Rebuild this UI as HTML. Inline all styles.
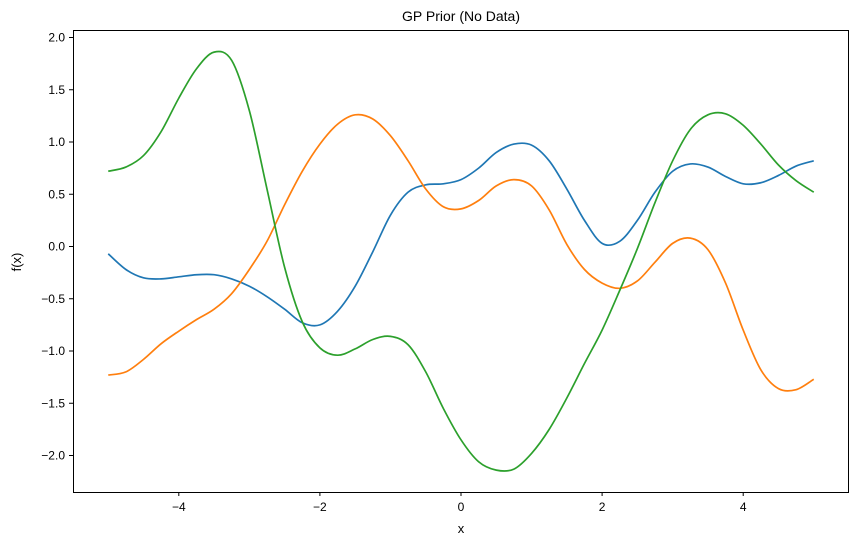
<!DOCTYPE html>
<html><head><meta charset="utf-8"><style>
body{margin:0;background:#fff}
svg{display:block;font-family:"Liberation Sans","DejaVu Sans",sans-serif}
</style></head><body>
<svg id="chart" width="858" height="545" viewBox="0 0 858 545" xmlns="http://www.w3.org/2000/svg">
<rect width="858" height="545" fill="#fff"/>
<text x="461" y="21" text-anchor="middle" font-size="14">GP Prior (No Data)</text>
<g id="plot"></g>
<rect x="73.5" y="30.5" width="775" height="462" fill="none" stroke="#000" stroke-width="1"/>
<text x="461" y="533" text-anchor="middle" font-size="13">x</text>
<text transform="translate(21,262) rotate(-90)" text-anchor="middle" font-size="13">f(x)</text>
</svg>
<script>
const xs = [-5,-4.75,-4.5,-4.25,-4,-3.75,-3.5,-3.25,-3,-2.75,-2.5,-2.25,-2,-1.75,-1.5,-1.25,-1,-0.75,-0.5,-0.25,0,0.25,0.5,0.75,1,1.25,1.5,1.75,2,2.25,2.5,2.75,3,3.25,3.5,3.75,4,4.25,4.5,4.75,5];
const sample1 = [-0.07,-0.22,-0.30,-0.31,-0.29,-0.27,-0.27,-0.31,-0.38,-0.48,-0.60,-0.73,-0.75,-0.62,-0.38,-0.05,0.30,0.52,0.59,0.60,0.64,0.75,0.90,0.98,0.97,0.82,0.55,0.25,0.03,0.05,0.25,0.52,0.72,0.79,0.76,0.67,0.60,0.61,0.68,0.77,0.82];
const sample2 = [-1.23,-1.20,-1.08,-0.93,-0.81,-0.70,-0.60,-0.45,-0.22,0.05,0.40,0.72,0.98,1.17,1.26,1.22,1.06,0.82,0.55,0.38,0.36,0.44,0.58,0.64,0.58,0.35,0.02,-0.22,-0.35,-0.40,-0.33,-0.15,0.03,0.08,-0.03,-0.35,-0.80,-1.18,-1.36,-1.37,-1.27];
const sample3 = [0.72,0.76,0.87,1.10,1.42,1.70,1.86,1.78,1.30,0.55,-0.20,-0.72,-0.97,-1.04,-0.98,-0.89,-0.86,-0.94,-1.20,-1.55,-1.85,-2.06,-2.14,-2.13,-1.98,-1.75,-1.45,-1.12,-0.80,-0.42,-0.02,0.42,0.82,1.12,1.26,1.27,1.16,0.98,0.78,0.63,0.52];
const xTicks = [-4,-2,0,2,4];
const yTicks = [-2.0,-1.5,-1.0,-0.5,0.0,0.5,1.0,1.5,2.0];
const colors = ['#1f77b4','#ff7f0e','#2ca02c'];
const X = v => 461 + v*70.55;
const Y = v => 246.5 - v*104.5;
const g = document.getElementById('plot');
const NS = 'http://www.w3.org/2000/svg';
function mk(t,a){const e=document.createElementNS(NS,t);for(const k in a)e.setAttribute(k,a[k]);return e;}
xTicks.forEach(t=>{
  const l=mk('line',{x1:X(t),x2:X(t),y1:492,y2:496,stroke:'#000'});
  
  
  g.appendChild(l);
  const tx=mk('text',{x:X(t),y:511,'text-anchor':'middle','font-size':12});
  tx.textContent=t<0?'\u2212'+Math.abs(t):String(t);
  
  
  g.appendChild(tx);
});
yTicks.forEach(t=>{
  const l=mk('line',{x1:69,x2:73,y1:Y(t),y2:Y(t),stroke:'#000'});
  
  
  g.appendChild(l);
  const tx=mk('text',{x:65,y:Y(t)+4,'text-anchor':'end','font-size':12});
  tx.textContent=(t<0?'\u2212':'')+Math.abs(t).toFixed(1);
  
  
  g.appendChild(tx);
});
function path(ys){
  const p=xs.map((x,i)=>[X(x),Y(ys[i])]);
  let d='M'+p[0][0]+','+p[0][1];
  for(let i=0;i<p.length-1;i++){
    const p0=p[Math.max(i-1,0)],p1=p[i],p2=p[i+1],p3=p[Math.min(i+2,p.length-1)];
    const c1=[p1[0]+(p2[0]-p0[0])/6,p1[1]+(p2[1]-p0[1])/6];
    const c2=[p2[0]-(p3[0]-p1[0])/6,p2[1]-(p3[1]-p1[1])/6];
    d+=' C'+c1+' '+c2+' '+p2;
  }
  return d;
}
[sample1,sample2,sample3].forEach((s,i)=>{
  const e=mk('path',{d:path(s),fill:'none',stroke:colors[i],'stroke-width':1.7});
  
  
  g.appendChild(e);
});
</script>
</body></html>
